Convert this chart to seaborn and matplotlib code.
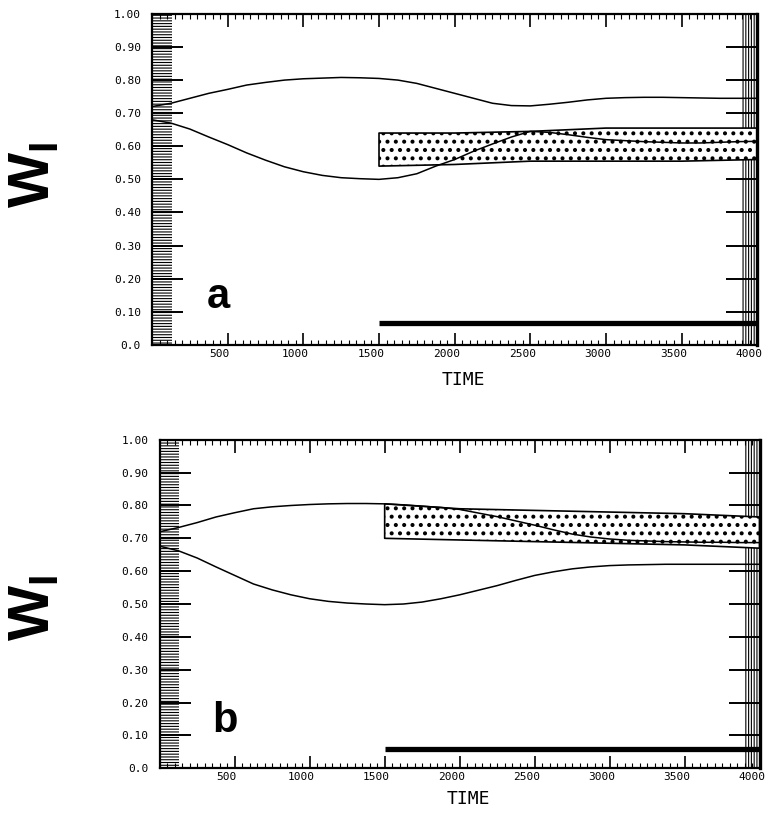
import matplotlib
matplotlib.use("Agg")
import matplotlib.pyplot as plt
import matplotlib.transforms as mtransforms
from matplotlib.ticker import FixedLocator, MultipleLocator, NullLocator
import seaborn as sns

# values, every 125 time units
time = [0, 125, 250, 375, 500, 625, 750, 875, 1000, 1125, 1250, 1375, 1500,
        1625, 1750, 1875, 2000, 2125, 2250, 2375, 2500, 2625, 2750, 2875,
        3000, 3125, 3250, 3375, 3500, 3625, 3750, 3875, 4000]

a_upper = [0.72, 0.73, 0.745, 0.76, 0.772, 0.785, 0.793, 0.80, 0.804, 0.806, 0.808,
           0.807, 0.805, 0.80, 0.79, 0.775, 0.76, 0.745, 0.73, 0.723, 0.722, 0.727,
           0.733, 0.74, 0.745, 0.747, 0.748, 0.748, 0.747, 0.746, 0.745, 0.745, 0.745]
a_lower = [0.68, 0.67, 0.652, 0.628, 0.605, 0.58, 0.558, 0.538, 0.523, 0.512, 0.505,
           0.502, 0.50, 0.505, 0.517, 0.54, 0.56, 0.585, 0.607, 0.628, 0.645, 0.642,
           0.635, 0.627, 0.62, 0.617, 0.614, 0.612, 0.61, 0.61, 0.612, 0.614, 0.615]

b_upper = [0.72, 0.733, 0.748, 0.765, 0.778, 0.79, 0.796, 0.80, 0.803, 0.805, 0.806,
           0.806, 0.805, 0.802, 0.798, 0.794, 0.788, 0.777, 0.766, 0.753, 0.74, 0.726,
           0.713, 0.704, 0.698, 0.694, 0.692, 0.69, 0.689, 0.688, 0.688, 0.687, 0.687]
b_lower = [0.676, 0.662, 0.64, 0.613, 0.587, 0.561, 0.543, 0.528, 0.516, 0.508, 0.503,
           0.50, 0.498, 0.50, 0.506, 0.516, 0.528, 0.542, 0.556, 0.572, 0.587, 0.598,
           0.607, 0.613, 0.617, 0.619, 0.62, 0.621, 0.621, 0.621, 0.621, 0.621, 0.621]

band_time = [1500, 2000, 2500, 3000, 3500, 4000]
a_band_top = [0.64, 0.64, 0.645, 0.655, 0.655, 0.655]
a_band_bot = [0.54, 0.545, 0.555, 0.555, 0.555, 0.56]
b_band_top = [0.805, 0.79, 0.785, 0.78, 0.775, 0.765]
b_band_bot = [0.70, 0.695, 0.69, 0.685, 0.68, 0.67]

bar_span = [1500, 4000]
a_bar = 0.065
b_bar = 0.06

x_ticks = [500, 1000, 1500, 2000, 2500, 3000, 3500, 4000]
y_ticks = [0.0, 0.1, 0.2, 0.3, 0.4, 0.5, 0.6, 0.7, 0.8, 0.9, 1.0]
y_labels = ["0.0", "0.10", "0.20", "0.30", "0.40", "0.50",
            "0.60", "0.70", "0.80", "0.90", "1.00"]

sns.set_style("ticks")
plt.rcParams["font.family"] = ["DejaVu Sans Mono"]
plt.rcParams["hatch.linewidth"] = 0.8
plt.rcParams["mathtext.fontset"] = "custom"
plt.rcParams["mathtext.bf"] = "Liberation Sans:bold"
plt.rcParams["mathtext.rm"] = "Liberation Sans"
for key in ["text.color", "axes.labelcolor", "xtick.color", "ytick.color", "axes.edgecolor"]:
    plt.rcParams[key] = "black"

fig = plt.figure(figsize=(7.68, 8.19), dpi=100)
ax_a = fig.add_axes([0.198, 0.579, 0.788, 0.404])
ax_b = fig.add_axes([0.208, 0.062, 0.781, 0.401])


def draw_panel(ax, upper, lower, band_top, band_bot, bar_level, letter, label_y):
    # scanner-like hatched strips along both side spines
    ax.axvspan(0, 130, fill=False, hatch="------", edgecolor="black", linewidth=0, zorder=1)
    ax.axvspan(3900, 4000, fill=False, hatch="||||||", edgecolor="black", linewidth=0, zorder=1)

    with plt.rc_context({"hatch.linewidth": 1.7}):
        ax.fill_between(band_time, band_bot, band_top, facecolor="white",
                        edgecolor="black", hatch="..", linewidth=1.2, zorder=2)

    sns.lineplot(x=time, y=upper, ax=ax, color="black", linewidth=1.1, zorder=3)
    sns.lineplot(x=time, y=lower, ax=ax, color="black", linewidth=1.1, zorder=3)

    ax.hlines(bar_level, bar_span[0], bar_span[1], color="black", linewidth=3.8, zorder=3)

    ax.text(435, 0.11, letter, fontsize=30, fontweight="bold",
            family="Liberation Sans", ha="center", va="baseline")

    ax.set_xlim(0, 4000)
    ax.set_ylim(0, 1.0)
    ax.xaxis.set_major_locator(FixedLocator(x_ticks))
    ax.xaxis.set_minor_locator(MultipleLocator(50))
    ax.set_yticks(y_ticks, y_labels)
    ax.yaxis.set_minor_locator(NullLocator())

    ax.tick_params(axis="x", which="major", direction="in", length=9, width=1.2,
                   top=True, labelsize=8, pad=3)
    ax.tick_params(axis="x", which="minor", direction="in", length=3.5, width=0.8, top=True)
    ax.tick_params(axis="y", which="major", direction="in", length=22, width=1.4,
                   right=True, labelsize=8, pad=8)

    for side in ["left", "top", "bottom"]:
        ax.spines[side].set_linewidth(1.6)
    ax.spines["right"].set_linewidth(2.4)

    ax.set_xlabel("TIME", fontsize=13)
    ax.xaxis.set_label_coords(0.515, label_y)
    ax.set_ylabel("")

    shift = mtransforms.ScaledTranslation(-0.08, 0, fig.dpi_scale_trans)
    for lab in ax.get_xticklabels():
        lab.set_transform(lab.get_transform() + shift)


draw_panel(ax_a, a_upper, a_lower, a_band_top, a_band_bot, a_bar, "a", -0.08)
draw_panel(ax_b, b_upper, b_lower, b_band_top, b_band_bot, b_bar, "b", -0.065)

fig.text(33 / 768, 1 - 175 / 819, r"$\mathbf{W}_\mathbf{I}$", fontsize=42,
         rotation=90, ha="center", va="center")
fig.text(33 / 768, 1 - 608 / 819, r"$\mathbf{W}_\mathbf{I}$", fontsize=42,
         rotation=90, ha="center", va="center")

fig.savefig("out.png", dpi=100)
